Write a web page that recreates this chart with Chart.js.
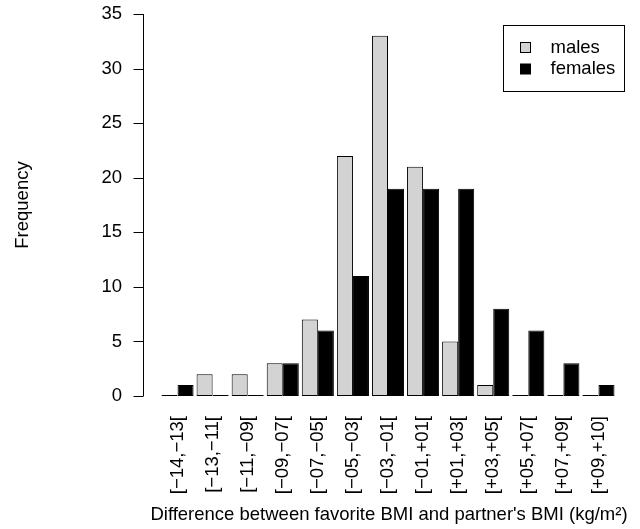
<!DOCTYPE html>
<html>
<head>
<meta charset="utf-8">
<script src="https://cdn.jsdelivr.net/npm/chart.js@4"></script>
<style>
html, body { margin: 0; padding: 0; background: #fff; }
#wrap { width: 640px; height: 529px; position: relative; }
</style>
</head>
<body>
<div id="wrap"><canvas id="bmi-diff-chart"></canvas></div>
<script>
// BMI difference bins (kg/m²)
const bins = ['[−14,−13[', '[−13,−11[', '[−11,−09[', '[−09,−07[', '[−07,−05[', '[−05,−03[', '[−03,−01[',
              '[−01,+01[', '[+01,+03[', '[+03,+05[', '[+05,+07[', '[+07,+09[', '[+09,+10]'];
const males   = [0, 2, 2, 3, 7, 22, 33, 21, 5, 1, 0, 0, 0];
const females = [1, 0, 0, 3, 6, 11, 19, 19, 19, 8, 6, 3, 1];
const yTicks  = [0, 5, 10, 15, 20, 25, 30, 35];
const xTitle  = "Difference between favorite BMI and partner's BMI (kg/m²)";

const font = 'Liberation Sans, Arial, sans-serif';
const fontSize = 18.5;
Chart.defaults.font.family = font;
Chart.defaults.font.size = fontSize;
Chart.defaults.color = '#000';

// R style axis (detached from the bars), x title wider than the plot, boxed legend
const rStyle = {
    id: 'rStyle',
    afterDraw(chart) {
        const ctx = chart.ctx;
        const area = chart.chartArea;
        const y = chart.scales.y;
        const x0 = Math.round(area.left) - 16.5;

        ctx.save();
        ctx.strokeStyle = '#000';
        ctx.lineWidth = 1;
        ctx.beginPath();
        ctx.moveTo(x0, y.getPixelForValue(yTicks[0]));
        ctx.lineTo(x0, y.getPixelForValue(yTicks[yTicks.length - 1]));
        yTicks.forEach(function(v) {
            const py = Math.round(y.getPixelForValue(v)) + 0.5;
            ctx.moveTo(x0 - 10, py);
            ctx.lineTo(x0, py);
        });
        ctx.stroke();

        ctx.font = fontSize + 'px ' + font;
        ctx.fillStyle = '#000';
        ctx.textBaseline = 'middle';
        ctx.textAlign = 'center';
        ctx.fillText(xTitle, (area.left + area.right) / 2 + 1, area.bottom + 119);

        // legend
        const bx = Math.round(area.right) - 112.5;
        const by = Math.round(area.top) + 11.5;
        ctx.strokeRect(bx, by, 121, 66);
        ctx.textAlign = 'left';
        chart.data.datasets.forEach(function(ds, i) {
            const cy = by + 22 + i * 21.5;
            ctx.fillStyle = ds.backgroundColor;
            ctx.fillRect(bx + 17, cy - 5, 10, 10);
            ctx.strokeRect(bx + 17, cy - 5, 10, 10);
            ctx.fillStyle = '#000';
            ctx.fillText(ds.label, bx + 47, cy);
        });
        ctx.restore();
    }
};

const ctx = document.querySelector('#bmi-diff-chart').getContext('2d');

const bmiGraph = new Chart(ctx, {
    type: 'bar',
    data: {
        labels: bins,
        datasets: [
            {
                label: 'males',
                data: males,
                backgroundColor: '#d3d3d3',
                borderColor: '#000',
                borderWidth: 1,
                borderSkipped: false,
                minBarLength: 1
            },
            {
                label: 'females',
                data: females,
                backgroundColor: '#000',
                borderColor: '#000',
                borderWidth: 1,
                borderSkipped: false,
                minBarLength: 1
            }
        ]
    },
    options: {
        responsive: true,
        maintainAspectRatio: false,
        animation: false,
        categoryPercentage: 32 / 35,
        barPercentage: 1,
        layout: {
            padding: { top: 14, right: 24, bottom: 0, left: 0 }
        },
        plugins: {
            legend: { display: false },
            tooltip: { enabled: false }
        },
        scales: {
            x: {
                grid: { display: false, drawTicks: false },
                border: { display: false },
                ticks: {
                    autoSkip: false,
                    minRotation: 90,
                    maxRotation: 90,
                    padding: 20
                },
                afterFit: function(scale) {
                    scale.height = 133;
                    scale.paddingLeft = 0;
                    scale.paddingRight = 0;
                }
            },
            y: {
                min: 0,
                max: 35,
                grid: { display: false, drawTicks: false },
                border: { display: false },
                ticks: {
                    stepSize: 5,
                    padding: 38
                },
                title: {
                    display: true,
                    text: 'Frequency',
                    padding: { top: 12, bottom: 0 }
                },
                afterFit: function(scale) {
                    scale.width = 160;
                    scale.paddingTop = 0;
                    scale.paddingBottom = 0;
                }
            }
        }
    },
    plugins: [rStyle]
});
</script>
</body>
</html>
